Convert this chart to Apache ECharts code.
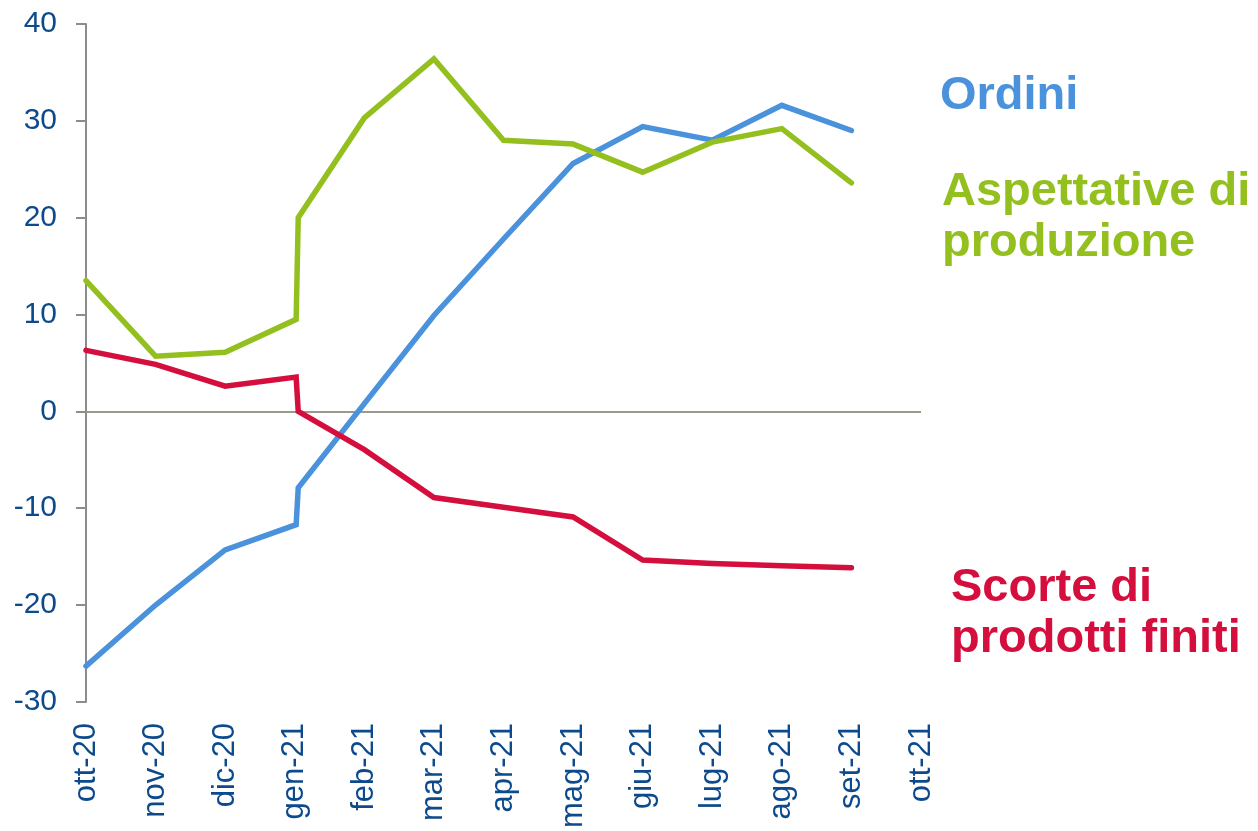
<!DOCTYPE html>
<html>
<head>
<meta charset="utf-8">
<script src="https://cdn.jsdelivr.net/npm/echarts@6/dist/echarts.min.js"></script>
<style>
  html, body { margin: 0; padding: 0; background: #fff; }
  #chart { width: 1258px; height: 831px; }
</style>
</head>
<body>
<div id="chart"></div>
<script>
// month labels for the x axis
const months = ['ott-20', 'nov-20', 'dic-20', 'gen-21', 'feb-21', 'mar-21', 'apr-21',
  'mag-21', 'giu-21', 'lug-21', 'ago-21', 'set-21', 'ott-21'];

// x position of each observation (month index); gen-21 has a revised value just after it
const xPos = [0, 1, 2, 3.02, 3.05, 4, 5, 6, 7, 8, 9, 10, 11];

const ordini = [-26.3, -20.0, -14.3, -11.7, -7.9, 0.8, 9.9, 17.8, 25.6, 29.4, 28.0, 31.6, 29.0];
const aspettative = [13.5, 5.7, 6.1, 9.5, 20.0, 30.3, 36.4, 28.0, 27.6, 24.7, 27.8, 29.2, 23.6];
const scorte = [6.3, 4.85, 2.6, 3.55, 0.0, -3.95, -8.9, -9.9, -10.9, -15.35, -15.7, -15.95, -16.15];

const textFont = '"Liberation Sans", Arial, sans-serif';
const labelFont = 'bold 47px "Liberation Sans", Arial, sans-serif';
const axisBlue = '#0d4a8c';

function pairs(values) {
    return values.map((v, i) => [xPos[i], v]);
}

function lineSeries(name, values, color) {
    return {
        name,
        type: 'line',
        data: pairs(values),
        symbol: 'none',
        smooth: false,
        lineStyle: { color, width: 5.5, cap: 'round', join: 'miter' },
        itemStyle: { color },
        z: 3
    };
}

const chart = echarts.init(document.getElementById('chart'));

const series = [
    lineSeries('Ordini', ordini, '#4a92dc'),
    lineSeries('Aspettative di produzione', aspettative, '#93c01f'),
    lineSeries('Scorte di prodotti finiti', scorte, '#d50f3d')
];
// zero line across the plot
series[0].markLine = {
    silent: true,
    symbol: 'none',
    label: { show: false },
    lineStyle: { color: '#9a9a8c', width: 2, type: 'solid' },
    data: [{ yAxis: 0 }],
    z: 1
};

const option = {
    backgroundColor: '#ffffff',
    animation: false,
    grid: { left: 86, right: 337, top: 24, bottom: 127 },
    xAxis: {
        type: 'value',
        min: 0,
        max: 12,
        interval: 1,
        axisLine: { show: false },
        axisTick: { show: false },
        splitLine: { show: false },
        axisLabel: {
            rotate: 90,
            margin: 21,
            color: axisBlue,
            fontSize: 31,
            fontFamily: textFont,
            formatter: (v) => months[Math.round(v)] || ''
        }
    },
    yAxis: {
        type: 'value',
        min: -30,
        max: 40,
        interval: 10,
        axisLine: { show: true, lineStyle: { color: '#8c8c8c', width: 2 } },
        axisTick: { show: true, length: 10, lineStyle: { color: '#8c8c8c', width: 2 } },
        splitLine: { show: false },
        axisLabel: {
            margin: 29,
            color: axisBlue,
            fontSize: 30,
            fontFamily: textFont
        }
    },
    graphic: [
        {
            type: 'text', left: 940, top: 73,
            style: { text: 'Ordini', fill: '#4a92dc', font: labelFont }
        },
        {
            type: 'text', left: 942, top: 167,
            style: { text: 'Aspettative di\nproduzione', fill: '#93c01f', lineHeight: 51, font: labelFont }
        },
        {
            type: 'text', left: 951, top: 563,
            style: { text: 'Scorte di\nprodotti finiti', fill: '#d50f3d', lineHeight: 51, font: labelFont }
        }
    ],
    series
};

chart.setOption(option);
</script>
</body>
</html>
